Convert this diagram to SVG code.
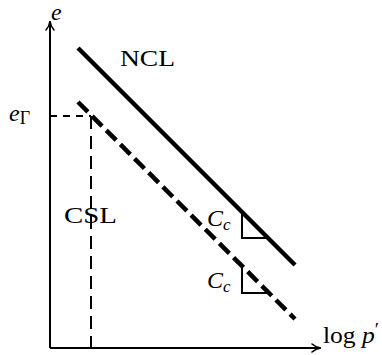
<svg xmlns="http://www.w3.org/2000/svg" width="382" height="355" viewBox="0 0 382 355">
<style>
text{font-family:"Liberation Serif","Times New Roman",serif;fill:#000}
.lab{font-size:24px}
.it{font-style:italic}
.axis{stroke:#000;stroke-width:2;fill:none}
.head{stroke:#000;stroke-width:1.6;fill:none;stroke-linecap:round}
.thick{stroke:#000;stroke-width:4.5;fill:none}
.thin{stroke:#000;stroke-width:2;fill:none}
</style>
<rect width="382" height="355" fill="#fff"/>
<g id="axes">
<path class="axis" d="M50,348 V22 M50,348 H320"/>
<path class="head" d="M46,30 Q49.5,26 50,21 Q50.5,26 54,30"/>
<path class="head" d="M312,344 Q316,347.5 321,348 Q316,348.5 312,352"/>
<text class="lab it" x="51" y="20" font-size="25">e</text>
<text class="lab" x="323" y="343" textLength="56" lengthAdjust="spacingAndGlyphs">log <tspan class="it">p</tspan><tspan font-size="18" dy="-7">′</tspan></text>
</g>
<g id="ncl">
<line class="thick" x1="78" y1="48" x2="295" y2="265"/>
<text class="lab" x="120" y="66" textLength="55" lengthAdjust="spacingAndGlyphs">NCL</text>
</g>
<g id="csl">
<line class="thick" x1="78" y1="102" x2="295" y2="319" stroke-dasharray="14 6"/>
<text class="lab" x="64" y="223" textLength="53" lengthAdjust="spacingAndGlyphs">CSL</text>
</g>
<g id="egamma">
<path class="thin" d="M50,116 H91" stroke-dasharray="7 6"/>
<path class="thin" d="M91,116 V348" stroke-dasharray="13 7"/>
<text class="lab it" x="9" y="121" font-size="26">e<tspan font-style="normal" font-size="18" dy="3">Γ</tspan></text>
</g>
<g id="cc-ncl">
<path class="thin" d="M242,212 V238 H268"/>
<text class="lab it" x="207" y="226" font-size="25">C<tspan font-size="17" dy="4">c</tspan></text>
</g>
<g id="cc-csl">
<path class="thin" d="M242,266 V293 H269"/>
<text class="lab it" x="207" y="288" font-size="25">C<tspan font-size="17" dy="4">c</tspan></text>
</g>
</svg>
